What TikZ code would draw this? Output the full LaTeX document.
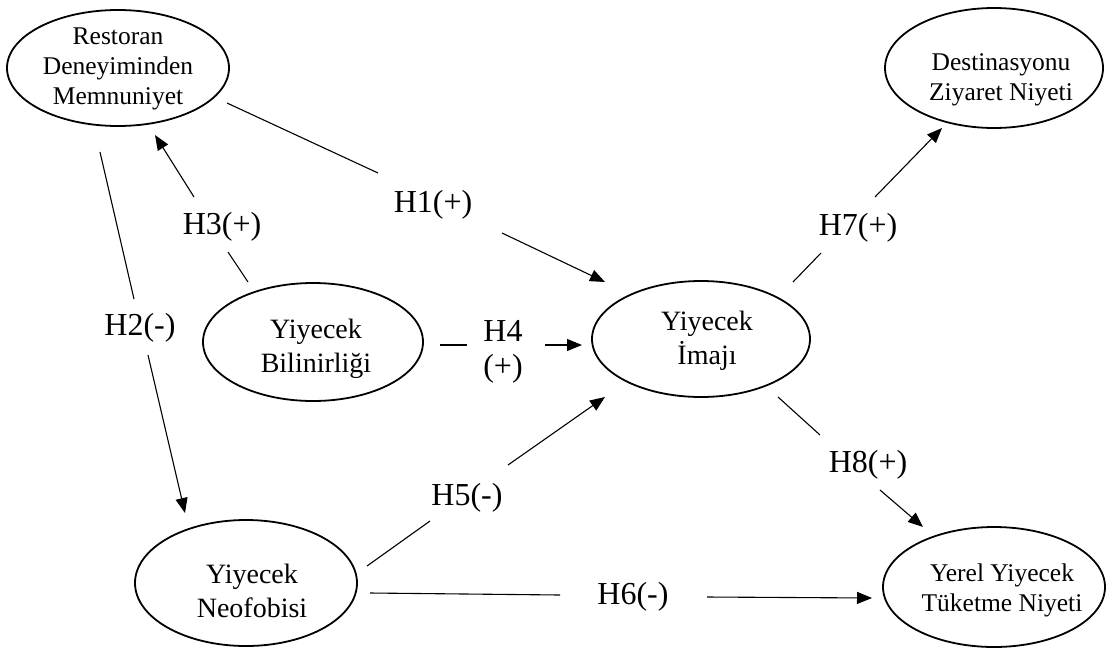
\documentclass[tikz,border=0pt]{standalone}
\usepackage{fontspec}
\setmainfont{Liberation Serif}
\usetikzlibrary{shapes.geometric,arrows.meta}
\begin{document}
\begin{tikzpicture}[x=1pt,y=-1pt,
  ell/.style={draw, ellipse, line width=1.8pt, inner sep=0pt},
  smalltxt/.style={align=center, inner sep=0pt, font=\fontsize{25.5}{30}\selectfont},
  bigtxt/.style={align=center, inner sep=0pt, font=\fontsize{28}{34}\selectfont},
  hyp/.style={align=center, inner sep=0pt, font=\fontsize{32}{35}\selectfont},
  link/.style={line width=1.1pt},
  arr/.style={link, -{Triangle[length=15pt,width=12pt]}}]
\useasboundingbox (0,0) rectangle (1107,648);

% constructs
\node[ell, minimum width=222pt, minimum height=116pt] (rest) at (118,68) {};
\node[smalltxt] (rest-t) at (118,69) {Restoran\\Deneyiminden\\Memnuniyet};
\node[ell, minimum width=218pt, minimum height=120pt] (dest) at (994,68) {};
\node[smalltxt] (dest-t) at (1001,80) {Destinasyonu\\Ziyaret Niyeti};
\node[ell, minimum width=220pt, minimum height=118pt] (bil) at (313,342) {};
\node[bigtxt] (bil-t) at (316,349) {Yiyecek\\Bilinirliği};
\node[ell, minimum width=218pt, minimum height=116pt] (imaj) at (701,339) {};
\node[bigtxt] (imaj-t) at (707,341) {Yiyecek\\İmajı};
\node[ell, minimum width=222pt, minimum height=126pt] (neo) at (246,583) {};
\node[bigtxt] (neo-t) at (252,591) {Yiyecek\\Neofobisi};
\node[ell, minimum width=222pt, minimum height=120pt] (yerel) at (994,587) {};
\node[smalltxt] (yerel-t) at (1002,590) {Yerel Yiyecek\\Tüketme Niyeti};

% hypothesis labels
\node[hyp] (h1) at (433,205) {H1(+)};
\node[hyp] (h2) at (140,328) {H2(-)};
\node[hyp] (h3) at (222,227) {H3(+)};
\node[hyp] (h4) at (503,352) {H4\\(+)};
\node[hyp] (h5) at (467,498) {H5(-)};
\node[hyp] (h6) at (633,597) {H6(-)};
\node[hyp] (h7) at (858,228) {H7(+)};
\node[hyp] (h8) at (868,465) {H8(+)};

% path end points
\coordinate (h1a) at (227,103); \coordinate (h1b) at (378,173);
\coordinate (h1c) at (502,233); \coordinate (h1d) at (605,282);
\coordinate (h3a) at (248,282); \coordinate (h3b) at (228,252);
\coordinate (h3c) at (194,197); \coordinate (h3d) at (155,135);
\coordinate (h2a) at (100,152); \coordinate (h2b) at (134,299);
\coordinate (h2c) at (148,355); \coordinate (h2d) at (185,513);
\coordinate (h4a) at (440,345); \coordinate (h4b) at (467,345);
\coordinate (h4c) at (545,345); \coordinate (h4d) at (582,345);
\coordinate (h5a) at (367,566); \coordinate (h5b) at (430,521);
\coordinate (h5c) at (508,465); \coordinate (h5d) at (605,397);
\coordinate (h6a) at (370,593); \coordinate (h6b) at (560,595);
\coordinate (h6c) at (707,597); \coordinate (h6d) at (872,598);
\coordinate (h7a) at (793,282); \coordinate (h7b) at (821,253);
\coordinate (h7c) at (875,197); \coordinate (h7d) at (942,128);
\coordinate (h8a) at (778,397); \coordinate (h8b) at (820,435);
\coordinate (h8c) at (880,490); \coordinate (h8d) at (923,527);

% paths
\draw[link] (h1a) -- (h1b); \draw[arr] (h1c) -- (h1d);
\draw[link] (h3a) -- (h3b); \draw[arr] (h3c) -- (h3d);
\draw[link] (h2a) -- (h2b); \draw[arr] (h2c) -- (h2d);
\draw[link] (h4a) -- (h4b); \draw[arr] (h4c) -- (h4d);
\draw[link] (h5a) -- (h5b); \draw[arr] (h5c) -- (h5d);
\draw[link] (h6a) -- (h6b); \draw[arr] (h6c) -- (h6d);
\draw[link] (h7a) -- (h7b); \draw[arr] (h7c) -- (h7d);
\draw[link] (h8a) -- (h8b); \draw[arr] (h8c) -- (h8d);
\end{tikzpicture}
\end{document}
